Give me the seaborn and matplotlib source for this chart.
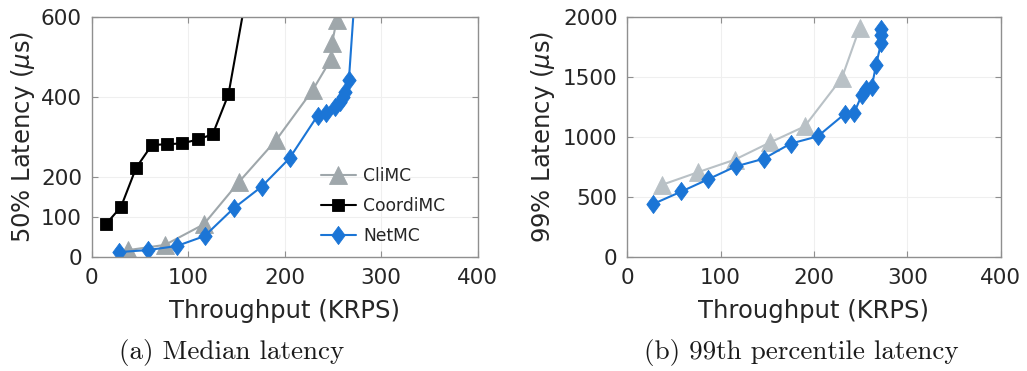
import matplotlib
matplotlib.use("Agg")
import matplotlib.pyplot as plt
import seaborn as sns
import pandas as pd

# ---------------- data ----------------
series_names = ["CliMC", "CoordiMC", "NetMC"]

# (a) median latency
cli_x_med = [38, 76, 116, 153, 191, 229, 248, 249, 254]
cli_y_med = [18, 31, 82, 189, 292, 417, 494, 534, 592]

coord_x_med = [14.5, 30.4, 46, 62.3, 77.9, 93.5, 110.5, 125.4, 141.7, 158]
coord_y_med = [82, 126, 223, 280, 282, 284, 294, 307, 406, 625]

net_x_med = [28, 58, 88, 117, 147, 176, 205, 234, 243, 252, 257, 260.5, 263, 266.5, 272.5, 272.5, 272.5]
net_y_med = [13, 18, 28, 53, 122, 176, 247, 353, 359, 374, 388, 400, 413, 442, 650, 720, 800]

# (b) 99th percentile latency
cli_x_99 = [37, 76, 115, 153, 190, 230, 249]
cli_y_99 = [602, 708, 811, 955, 1088, 1492, 1908]

net_x_99 = [28, 58, 87, 116, 146, 175, 204, 233, 243, 251, 256, 262, 266.5, 272, 272, 272]
net_y_99 = [444, 547, 650, 755, 819, 945, 1005, 1192, 1200, 1345, 1400, 1418, 1597, 1783, 1852, 1894]

x_ticks = [0, 100, 200, 300, 400]
y_ticks_med = [0, 100, 200, 400, 600]
y_ticks_99 = [0, 500, 1000, 1500, 2000]

xlabel = "Throughput (KRPS)"
ylabel_med = "50% Latency ($\\mu$s)"
ylabel_99 = "99% Latency ($\\mu$s)"
caption_a = "(a) Median latency"
caption_b = "(b) 99th percentile latency"

# ---------------- style ----------------
sns.set_theme(style="whitegrid")
plt.rcParams["font.family"] = ["DejaVu Sans"]
plt.rcParams["mathtext.fontset"] = "dejavusans"

c_gray = "#9fa7ab"
c_gray_light = "#b9c1c6"
c_black = "#000000"
c_blue = "#1b75d6"
spine_c = "#8f8f8f"

diamond = [(0, 1), (0.74, 0), (0, -1), (-0.74, 0), (0, 1)]

fig = plt.figure(figsize=(10.27, 3.71), dpi=100)
W, H = 1027.0, 371.0
ax1 = fig.add_axes([91.7 / W, 1 - 257.3 / H, 386.0 / W, 240.6 / H])
ax2 = fig.add_axes([627.3 / W, 1 - 257.3 / H, 373.3 / W, 240.6 / H])


def draw(ax, x, y, color, marker, ms, label):
    df = pd.DataFrame({"x": x, "y": y})
    sns.lineplot(data=df, x="x", y="y", ax=ax, color=color, marker=marker,
                 markersize=ms, markeredgewidth=0.6, markeredgecolor=color,
                 linewidth=1.5, estimator=None, sort=False, label=label)


draw(ax1, cli_x_med, cli_y_med, c_gray, "^", 12.3, series_names[0])
draw(ax1, coord_x_med, coord_y_med, c_black, "s", 8.4, series_names[1])
draw(ax1, net_x_med, net_y_med, c_blue, diamond, 13.0, series_names[2])

draw(ax2, cli_x_99, cli_y_99, c_gray_light, "^", 12.3, series_names[0])
draw(ax2, net_x_99, net_y_99, c_blue, diamond, 13.0, series_names[2])

for ax, yt, yl in [(ax1, y_ticks_med, ylabel_med), (ax2, y_ticks_99, ylabel_99)]:
    ax.set_xlim(0, 400)
    ax.set_ylim(0, yt[-1])
    ax.set_xticks(x_ticks)
    ax.set_yticks(yt)
    ax.grid(True, color="#efefef", linewidth=0.8)
    for s in ax.spines.values():
        s.set_visible(True)
        s.set_color(spine_c)
        s.set_linewidth(1.0)
    ax.tick_params(axis="both", which="both", direction="in", length=4,
                   width=0.8, color=spine_c, labelsize=15.5, labelcolor="#262626",
                   top=True, right=True, bottom=True, left=True)
    ax.tick_params(axis="x", pad=8)
    ax.tick_params(axis="y", pad=7)
    ax.set_xlabel(xlabel, fontsize=17.5, color="#262626", va="center")
    ax.set_ylabel(yl, fontsize=17.5, color="#262626", va="center")
    ax.xaxis.set_label_coords(0.5, -0.225)

ax1.yaxis.set_label_coords(-0.178, 0.5)
ax2.yaxis.set_label_coords(-0.226, 0.5)

ax2.get_legend().remove()
leg = ax1.legend(loc="center left", bbox_to_anchor=(0.595, 0.213), frameon=False,
                 fontsize=12.3, handlelength=2.0, handletextpad=0.45,
                 labelspacing=0.7, borderpad=0, borderaxespad=0)
for t in leg.get_texts():
    t.set_color("#262626")

fig.text(232 / W, 1 - 352 / H, caption_a, family="cmr10", fontsize=19.5,
         ha="center", va="center", color="#1a1a1a")
fig.text(801 / W, 1 - 352 / H, caption_b, family="cmr10", fontsize=19.5,
         ha="center", va="center", color="#1a1a1a")

fig.savefig("out.png", dpi=100)
